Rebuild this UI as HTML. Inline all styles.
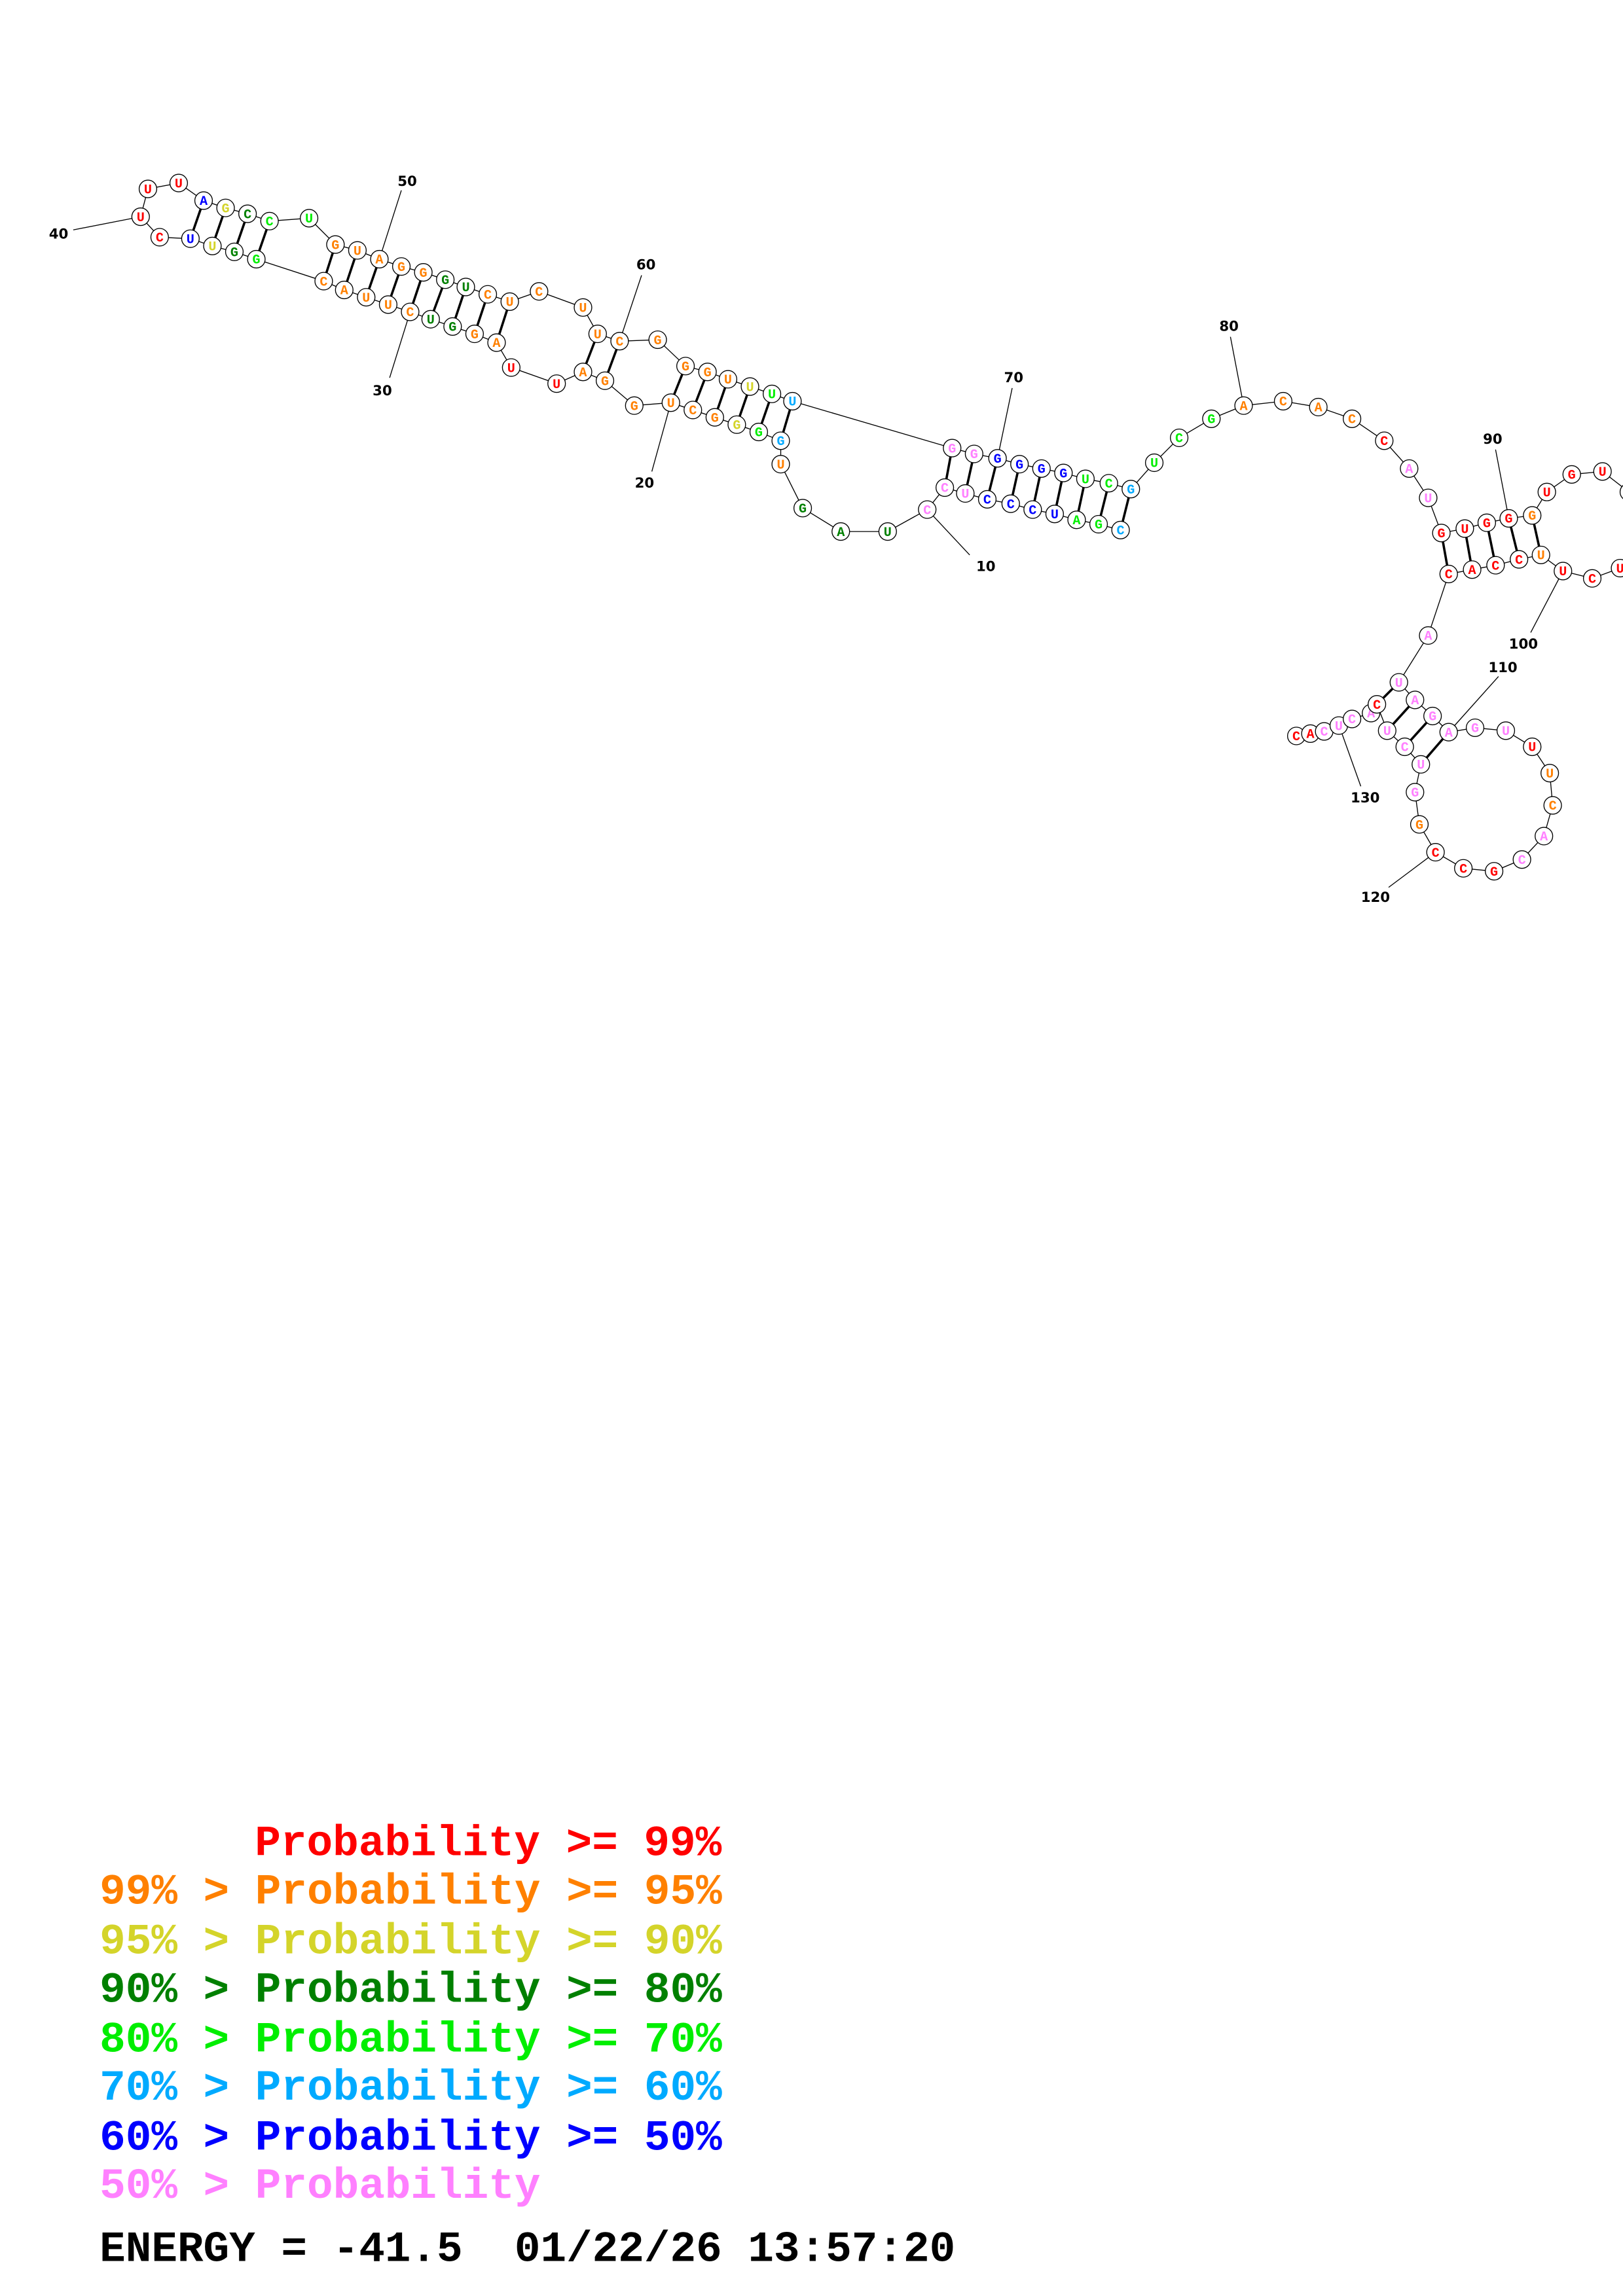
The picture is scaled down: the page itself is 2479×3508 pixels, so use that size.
<!DOCTYPE html>
<html><head><meta charset="utf-8"><style>
html,body{margin:0;padding:0;background:#fff;}
svg{display:block;}
.b{stroke:#000;stroke-width:0.6;fill:none;}
.p{stroke:#000;stroke-width:1.6;}
.n circle{fill:#fff;stroke:#000;stroke-width:0.6;}
.n text{font-family:"Liberation Mono",monospace;font-weight:bold;font-size:9px;text-anchor:middle;}
.lbl{font-family:"DejaVu Sans","Liberation Sans",sans-serif;font-weight:bold;font-size:9.5px;text-anchor:middle;fill:#000;}
.lg{font-family:"Liberation Mono",monospace;font-weight:bold;font-size:29.5px;}
.R{fill:#ff0000}.O{fill:#ff8000}.Y{fill:#d4d42a}.D{fill:#008000}.L{fill:#00ee00}.C{fill:#00aaff}.B{fill:#0000ff}.P{fill:#ff80ff}
</style></head><body>
<svg width="2479" height="3508" viewBox="0 0 1108 1568" preserveAspectRatio="none" xmlns="http://www.w3.org/2000/svg">
<!-- backbone -->
<polyline class="b" points="765,362 750,358 735,355 720,351 705,348 690,344 674,341 659,337 645,333 633,348 606,363 574,363 548,347 533,317 533,301 518,295 503,290 488,285 473,280 458,275 433,277 413,260 398,254 380,262 349,251 339,234 324,228 309,223 294,218 280,213 265,208 250,203 235,198 221,192 175,177 160,172 145,168 130,163 109,162 96,148 101,129 122,125 139,137 154,142 169,146 184,151 211,149 229,167 244,171 259,177 274,182 289,186 304,191 318,196 333,201 348,206 368,199 398,210 408,228 423,233 449,232 468,250 483,254 497,259 512,264 527,269 541,274 650,306 665,310 681,313 696,317 711,320 726,323 741,327 757,330 772,334 788,316 805,299 827,286 849,277 876,274 900,278 923,286 945,301 962,320 975,340 984,364 1000,361 1015,357 1030,354 1046,352 1056,336 1073,324 1094,322 1112,336"/>
<polyline class="b" points="1115,380 1106,388 1087,395 1067,390 1052,379 1037,382 1021,386 1005,389 989,392 975,434 955,466 966,478 978,489 989,500 1007,497 1028,499 1046,510 1058,528 1060,550 1054,571 1039,587 1020,595 999,593 980,582 969,563 966,541 970,522 959,510 947,499 940,481 936,487 923,491 914,495.5 904,499.5 894.6,501 885,502.6"/>
<!-- pairs -->
<g class="p">
<line x1="765" y1="362" x2="772" y2="334"/><line x1="750" y1="358" x2="757" y2="330"/><line x1="735" y1="355" x2="741" y2="327"/><line x1="720" y1="351" x2="726" y2="323"/><line x1="705" y1="348" x2="711" y2="320"/><line x1="690" y1="344" x2="696" y2="317"/><line x1="674" y1="341" x2="681" y2="313"/><line x1="659" y1="337" x2="665" y2="310"/><line x1="645" y1="333" x2="650" y2="306"/>
<line x1="533" y1="301" x2="541" y2="274"/><line x1="518" y1="295" x2="527" y2="269"/><line x1="503" y1="290" x2="512" y2="264"/><line x1="488" y1="285" x2="497" y2="259"/><line x1="473" y1="280" x2="483" y2="254"/><line x1="458" y1="275" x2="468" y2="250"/>
<line x1="413" y1="260" x2="423" y2="233"/><line x1="398" y1="254" x2="408" y2="228"/>
<line x1="339" y1="234" x2="348" y2="206"/><line x1="324" y1="228" x2="333" y2="201"/><line x1="309" y1="223" x2="318" y2="196"/><line x1="294" y1="218" x2="304" y2="191"/><line x1="280" y1="213" x2="289" y2="186"/><line x1="265" y1="208" x2="274" y2="182"/><line x1="250" y1="203" x2="259" y2="177"/><line x1="235" y1="198" x2="244" y2="171"/><line x1="221" y1="192" x2="229" y2="167"/>
<line x1="175" y1="177" x2="184" y2="151"/><line x1="160" y1="172" x2="169" y2="146"/><line x1="145" y1="168" x2="154" y2="142"/><line x1="130" y1="163" x2="139" y2="137"/>
<line x1="984" y1="364" x2="989" y2="392"/><line x1="1000" y1="361" x2="1005" y2="389"/><line x1="1015" y1="357" x2="1021" y2="386"/><line x1="1030" y1="354" x2="1037" y2="382"/><line x1="1046" y1="352" x2="1052" y2="379"/>
<line x1="955" y1="466" x2="940" y2="481"/><line x1="966" y1="478" x2="947" y2="499"/><line x1="978" y1="489" x2="959" y2="510"/><line x1="989" y1="500" x2="970" y2="522"/>
</g>
<!-- number labels -->
<g class="b">
<line x1="633" y1="348" x2="662" y2="379"/><line x1="458" y1="275" x2="445" y2="322"/><line x1="280" y1="213" x2="266" y2="258"/><line x1="96" y1="148" x2="50" y2="157"/><line x1="259" y1="177" x2="274" y2="130"/><line x1="423" y1="233" x2="438" y2="188"/><line x1="681" y1="313" x2="691" y2="265"/><line x1="849" y1="277" x2="840" y2="230"/><line x1="1030" y1="354" x2="1021" y2="307"/><line x1="1067" y1="390" x2="1045" y2="432"/><line x1="989" y1="500" x2="1023" y2="462"/><line x1="980" y1="582" x2="948" y2="606"/><line x1="914" y1="495" x2="929" y2="537"/>
</g>
<text class="lbl" x="673" y="390">10</text><text class="lbl" x="440" y="333">20</text><text class="lbl" x="261" y="270">30</text><text class="lbl" x="40" y="163">40</text><text class="lbl" x="278" y="127">50</text><text class="lbl" x="441" y="184">60</text><text class="lbl" x="692" y="261">70</text><text class="lbl" x="839" y="226">80</text><text class="lbl" x="1019" y="303">90</text><text class="lbl" x="1040" y="443">100</text><text class="lbl" x="1026" y="459">110</text><text class="lbl" x="939" y="616">120</text><text class="lbl" x="932" y="548">130</text>
<!-- nodes -->
<g class="n">
<circle cx="765" cy="362" r="6"/><text x="765" y="365" class="C">C</text>
<circle cx="750" cy="358" r="6"/><text x="750" y="361" class="L">G</text>
<circle cx="735" cy="355" r="6"/><text x="735" y="358" class="L">A</text>
<circle cx="720" cy="351" r="6"/><text x="720" y="354" class="B">U</text>
<circle cx="705" cy="348" r="6"/><text x="705" y="351" class="B">C</text>
<circle cx="690" cy="344" r="6"/><text x="690" y="347" class="B">C</text>
<circle cx="674" cy="341" r="6"/><text x="674" y="344" class="B">C</text>
<circle cx="659" cy="337" r="6"/><text x="659" y="340" class="P">U</text>
<circle cx="645" cy="333" r="6"/><text x="645" y="336" class="P">C</text>
<circle cx="633" cy="348" r="6"/><text x="633" y="351" class="P">C</text>
<circle cx="606" cy="363" r="6"/><text x="606" y="366" class="D">U</text>
<circle cx="574" cy="363" r="6"/><text x="574" y="366" class="D">A</text>
<circle cx="548" cy="347" r="6"/><text x="548" y="350" class="D">G</text>
<circle cx="533" cy="317" r="6"/><text x="533" y="320" class="O">U</text>
<circle cx="533" cy="301" r="6"/><text x="533" y="304" class="C">G</text>
<circle cx="518" cy="295" r="6"/><text x="518" y="298" class="L">G</text>
<circle cx="503" cy="290" r="6"/><text x="503" y="293" class="Y">G</text>
<circle cx="488" cy="285" r="6"/><text x="488" y="288" class="O">G</text>
<circle cx="473" cy="280" r="6"/><text x="473" y="283" class="O">C</text>
<circle cx="458" cy="275" r="6"/><text x="458" y="278" class="O">U</text>
<circle cx="433" cy="277" r="6"/><text x="433" y="280" class="O">G</text>
<circle cx="413" cy="260" r="6"/><text x="413" y="263" class="O">G</text>
<circle cx="398" cy="254" r="6"/><text x="398" y="257" class="O">A</text>
<circle cx="380" cy="262" r="6"/><text x="380" y="265" class="R">U</text>
<circle cx="349" cy="251" r="6"/><text x="349" y="254" class="R">U</text>
<circle cx="339" cy="234" r="6"/><text x="339" y="237" class="O">A</text>
<circle cx="324" cy="228" r="6"/><text x="324" y="231" class="O">G</text>
<circle cx="309" cy="223" r="6"/><text x="309" y="226" class="D">G</text>
<circle cx="294" cy="218" r="6"/><text x="294" y="221" class="D">U</text>
<circle cx="280" cy="213" r="6"/><text x="280" y="216" class="O">C</text>
<circle cx="265" cy="208" r="6"/><text x="265" y="211" class="O">U</text>
<circle cx="250" cy="203" r="6"/><text x="250" y="206" class="O">U</text>
<circle cx="235" cy="198" r="6"/><text x="235" y="201" class="O">A</text>
<circle cx="221" cy="192" r="6"/><text x="221" y="195" class="O">C</text>
<circle cx="175" cy="177" r="6"/><text x="175" y="180" class="L">G</text>
<circle cx="160" cy="172" r="6"/><text x="160" y="175" class="D">G</text>
<circle cx="145" cy="168" r="6"/><text x="145" y="171" class="Y">U</text>
<circle cx="130" cy="163" r="6"/><text x="130" y="166" class="B">U</text>
<circle cx="109" cy="162" r="6"/><text x="109" y="165" class="R">C</text>
<circle cx="96" cy="148" r="6"/><text x="96" y="151" class="R">U</text>
<circle cx="101" cy="129" r="6"/><text x="101" y="132" class="R">U</text>
<circle cx="122" cy="125" r="6"/><text x="122" y="128" class="R">U</text>
<circle cx="139" cy="137" r="6"/><text x="139" y="140" class="B">A</text>
<circle cx="154" cy="142" r="6"/><text x="154" y="145" class="Y">G</text>
<circle cx="169" cy="146" r="6"/><text x="169" y="149" class="D">C</text>
<circle cx="184" cy="151" r="6"/><text x="184" y="154" class="L">C</text>
<circle cx="211" cy="149" r="6"/><text x="211" y="152" class="L">U</text>
<circle cx="229" cy="167" r="6"/><text x="229" y="170" class="O">G</text>
<circle cx="244" cy="171" r="6"/><text x="244" y="174" class="O">U</text>
<circle cx="259" cy="177" r="6"/><text x="259" y="180" class="O">A</text>
<circle cx="274" cy="182" r="6"/><text x="274" y="185" class="O">G</text>
<circle cx="289" cy="186" r="6"/><text x="289" y="189" class="O">G</text>
<circle cx="304" cy="191" r="6"/><text x="304" y="194" class="D">G</text>
<circle cx="318" cy="196" r="6"/><text x="318" y="199" class="D">U</text>
<circle cx="333" cy="201" r="6"/><text x="333" y="204" class="O">C</text>
<circle cx="348" cy="206" r="6"/><text x="348" y="209" class="O">U</text>
<circle cx="368" cy="199" r="6"/><text x="368" y="202" class="O">C</text>
<circle cx="398" cy="210" r="6"/><text x="398" y="213" class="O">U</text>
<circle cx="408" cy="228" r="6"/><text x="408" y="231" class="O">U</text>
<circle cx="423" cy="233" r="6"/><text x="423" y="236" class="O">C</text>
<circle cx="449" cy="232" r="6"/><text x="449" y="235" class="O">G</text>
<circle cx="468" cy="250" r="6"/><text x="468" y="253" class="O">G</text>
<circle cx="483" cy="254" r="6"/><text x="483" y="257" class="O">G</text>
<circle cx="497" cy="259" r="6"/><text x="497" y="262" class="O">U</text>
<circle cx="512" cy="264" r="6"/><text x="512" y="267" class="Y">U</text>
<circle cx="527" cy="269" r="6"/><text x="527" y="272" class="L">U</text>
<circle cx="541" cy="274" r="6"/><text x="541" y="277" class="C">U</text>
<circle cx="650" cy="306" r="6"/><text x="650" y="309" class="P">G</text>
<circle cx="665" cy="310" r="6"/><text x="665" y="313" class="P">G</text>
<circle cx="681" cy="313" r="6"/><text x="681" y="316" class="B">G</text>
<circle cx="696" cy="317" r="6"/><text x="696" y="320" class="B">G</text>
<circle cx="711" cy="320" r="6"/><text x="711" y="323" class="B">G</text>
<circle cx="726" cy="323" r="6"/><text x="726" y="326" class="B">G</text>
<circle cx="741" cy="327" r="6"/><text x="741" y="330" class="L">U</text>
<circle cx="757" cy="330" r="6"/><text x="757" y="333" class="L">C</text>
<circle cx="772" cy="334" r="6"/><text x="772" y="337" class="C">G</text>
<circle cx="788" cy="316" r="6"/><text x="788" y="319" class="L">U</text>
<circle cx="805" cy="299" r="6"/><text x="805" y="302" class="L">C</text>
<circle cx="827" cy="286" r="6"/><text x="827" y="289" class="L">G</text>
<circle cx="849" cy="277" r="6"/><text x="849" y="280" class="O">A</text>
<circle cx="876" cy="274" r="6"/><text x="876" y="277" class="O">C</text>
<circle cx="900" cy="278" r="6"/><text x="900" y="281" class="O">A</text>
<circle cx="923" cy="286" r="6"/><text x="923" y="289" class="O">C</text>
<circle cx="945" cy="301" r="6"/><text x="945" y="304" class="R">C</text>
<circle cx="962" cy="320" r="6"/><text x="962" y="323" class="P">A</text>
<circle cx="975" cy="340" r="6"/><text x="975" y="343" class="P">U</text>
<circle cx="984" cy="364" r="6"/><text x="984" y="367" class="R">G</text>
<circle cx="1000" cy="361" r="6"/><text x="1000" y="364" class="R">U</text>
<circle cx="1015" cy="357" r="6"/><text x="1015" y="360" class="R">G</text>
<circle cx="1030" cy="354" r="6"/><text x="1030" y="357" class="R">G</text>
<circle cx="1046" cy="352" r="6"/><text x="1046" y="355" class="O">G</text>
<circle cx="1056" cy="336" r="6"/><text x="1056" y="339" class="R">U</text>
<circle cx="1073" cy="324" r="6"/><text x="1073" y="327" class="R">G</text>
<circle cx="1094" cy="322" r="6"/><text x="1094" y="325" class="R">U</text>
<circle cx="1112" cy="336" r="6"/>
<circle cx="1106" cy="388" r="6"/><text x="1106" y="391" class="R">U</text>
<circle cx="1087" cy="395" r="6"/><text x="1087" y="398" class="R">C</text>
<circle cx="1067" cy="390" r="6"/><text x="1067" y="393" class="R">U</text>
<circle cx="1052" cy="379" r="6"/><text x="1052" y="382" class="O">U</text>
<circle cx="1037" cy="382" r="6"/><text x="1037" y="385" class="R">C</text>
<circle cx="1021" cy="386" r="6"/><text x="1021" y="389" class="R">C</text>
<circle cx="1005" cy="389" r="6"/><text x="1005" y="392" class="R">A</text>
<circle cx="989" cy="392" r="6"/><text x="989" y="395" class="R">C</text>
<circle cx="975" cy="434" r="6"/><text x="975" y="437" class="P">A</text>
<circle cx="955" cy="466" r="6"/><text x="955" y="469" class="P">U</text>
<circle cx="966" cy="478" r="6"/><text x="966" y="481" class="P">A</text>
<circle cx="978" cy="489" r="6"/><text x="978" y="492" class="P">G</text>
<circle cx="989" cy="500" r="6"/><text x="989" y="503" class="P">A</text>
<circle cx="1007" cy="497" r="6"/><text x="1007" y="500" class="P">G</text>
<circle cx="1028" cy="499" r="6"/><text x="1028" y="502" class="P">U</text>
<circle cx="1046" cy="510" r="6"/><text x="1046" y="513" class="R">U</text>
<circle cx="1058" cy="528" r="6"/><text x="1058" y="531" class="O">U</text>
<circle cx="1060" cy="550" r="6"/><text x="1060" y="553" class="O">C</text>
<circle cx="1054" cy="571" r="6"/><text x="1054" y="574" class="P">A</text>
<circle cx="1039" cy="587" r="6"/><text x="1039" y="590" class="P">C</text>
<circle cx="1020" cy="595" r="6"/><text x="1020" y="598" class="R">G</text>
<circle cx="999" cy="593" r="6"/><text x="999" y="596" class="R">C</text>
<circle cx="980" cy="582" r="6"/><text x="980" y="585" class="R">C</text>
<circle cx="969" cy="563" r="6"/><text x="969" y="566" class="O">G</text>
<circle cx="966" cy="541" r="6"/><text x="966" y="544" class="P">G</text>
<circle cx="970" cy="522" r="6"/><text x="970" y="525" class="P">U</text>
<circle cx="959" cy="510" r="6"/><text x="959" y="513" class="P">C</text>
<circle cx="947" cy="499" r="6"/><text x="947" y="502" class="P">U</text>
<circle cx="885" cy="502.6" r="6"/><text x="885" y="505.6" class="R">C</text>
<circle cx="894.6" cy="501" r="6"/><text x="894.6" y="504" class="R">A</text>
<circle cx="904" cy="499.5" r="6"/><text x="904" y="502.5" class="P">C</text>
<circle cx="914" cy="495.5" r="6"/><text x="914" y="498.5" class="P">U</text>
<circle cx="923" cy="491" r="6"/><text x="923" y="494" class="P">C</text>
<circle cx="936" cy="487" r="6"/><text x="936" y="490" class="P">A</text>
<circle cx="940" cy="481" r="6"/><text x="940" y="484" class="R">C</text>
</g>
<!-- legend -->
<text class="lg R" x="174" y="1267">Probability &gt;= 99%</text>
<text class="lg O" x="68" y="1300">99% &gt; Probability &gt;= 95%</text>
<text class="lg Y" x="68" y="1334">95% &gt; Probability &gt;= 90%</text>
<text class="lg D" x="68" y="1367">90% &gt; Probability &gt;= 80%</text>
<text class="lg L" x="68" y="1401">80% &gt; Probability &gt;= 70%</text>
<text class="lg C" x="68" y="1434">70% &gt; Probability &gt;= 60%</text>
<text class="lg B" x="68" y="1468">60% &gt; Probability &gt;= 50%</text>
<text class="lg P" x="68" y="1501">50% &gt; Probability</text>
<text class="lg" x="68" y="1544" fill="#000" xml:space="preserve">ENERGY = -41.5  01/22/26 13:57:20</text>
</svg>
</body></html>
